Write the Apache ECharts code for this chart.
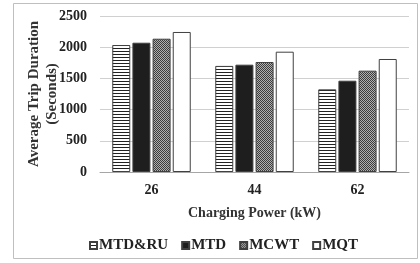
<!DOCTYPE html>
<html>
<head>
<meta charset="utf-8">
<script src="https://cdn.jsdelivr.net/npm/echarts@6/dist/echarts.min.js"></script>
<style>
  html, body { margin: 0; padding: 0; background: #fff; }
  #chart { width: 420px; height: 263px; }
</style>
</head>
<body>
<div id="chart"></div>
<script>
const categories = ["26", "44", "62"];
const seriesNames = ["MTD&RU", "MTD", "MCWT", "MQT"];
const mtdRu = [2035, 1700, 1325];
const mtd = [2072, 1720, 1463];
const mcwt = [2136, 1763, 1624];
const mqt = [2244, 1928, 1811];
const yTicks = { min: 0, max: 2500, interval: 500 };

// fill patterns drawn on small canvases
function makePattern(w, h, draw) {
  const c = document.createElement("canvas");
  c.width = w;
  c.height = h;
  draw(c.getContext("2d"));
  return { image: c, repeat: "repeat" };
}
const stripes = makePattern(3, 3, (ctx) => {
  ctx.fillStyle = "#fff";
  ctx.fillRect(0, 0, 3, 3);
  ctx.fillStyle = "#222";
  ctx.fillRect(0, 0, 3, 1);
});
const dither = makePattern(2, 2, (ctx) => {
  ctx.fillStyle = "#b0b0b0";
  ctx.fillRect(0, 0, 2, 2);
  ctx.fillStyle = "#3c3c3c";
  ctx.fillRect(0, 0, 1, 1);
  ctx.fillRect(1, 1, 1, 1);
});

const fills = [stripes, "#1e1e1e", dither, "#ffffff"];
const values = [mtdRu, mtd, mcwt, mqt];

const font = "Liberation Serif";
const chart = echarts.init(document.getElementById("chart"));
chart.setOption({
  animation: false,
  graphic: [{
    type: "rect",
    shape: { x: 13.5, y: 3.5, width: 404, height: 255 },
    style: { fill: "none", stroke: "#bfbfbf", lineWidth: 1 },
    silent: true,
  }],
  grid: { left: 100, right: 11, top: 16, bottom: 91 },
  legend: {
    left: 84,
    top: 233,
    itemWidth: 7,
    itemHeight: 7,
    itemGap: 13,
    textStyle: { fontFamily: font, fontWeight: "bold", fontSize: 15, color: "#222", padding: [0, 0, 0, -3] },
    data: seriesNames.map((n) => ({ name: n, icon: "rect" })),
  },
  xAxis: {
    type: "category",
    data: categories,
    name: "Charging Power (kW)",
    nameLocation: "middle",
    nameGap: 34,
    nameMoveOverlap: false,
    nameTextStyle: { fontFamily: font, fontWeight: "bold", fontSize: 14, color: "#333" },
    axisLine: { lineStyle: { color: "#a6a6a6" } },
    axisTick: { show: false },
    axisLabel: { fontFamily: font, fontWeight: "bold", fontSize: 14, color: "#222", margin: 11 },
  },
  yAxis: {
    type: "value",
    min: yTicks.min,
    max: yTicks.max,
    interval: yTicks.interval,
    name: "Average Trip Duration\n(Seconds)",
    nameLocation: "middle",
    nameGap: 39,
    nameMoveOverlap: false,
    nameTextStyle: { fontFamily: font, fontWeight: "bold", fontSize: 15, color: "#333", lineHeight: 18 },
    axisLine: { show: false },
    axisTick: { show: false },
    splitLine: { lineStyle: { color: "#d0d0d0" } },
    axisLabel: { fontFamily: font, fontWeight: "bold", fontSize: 14, color: "#222", margin: 13, formatter: (v) => String(v) },
  },
  series: seriesNames.map((name, i) => ({
    name: name,
    type: "bar",
    data: values[i],
    barWidth: 18,
    barGap: "12%",
    itemStyle: { color: fills[i], borderColor: "#404040", borderWidth: 1 },
  })),
});
</script>
</body>
</html>
